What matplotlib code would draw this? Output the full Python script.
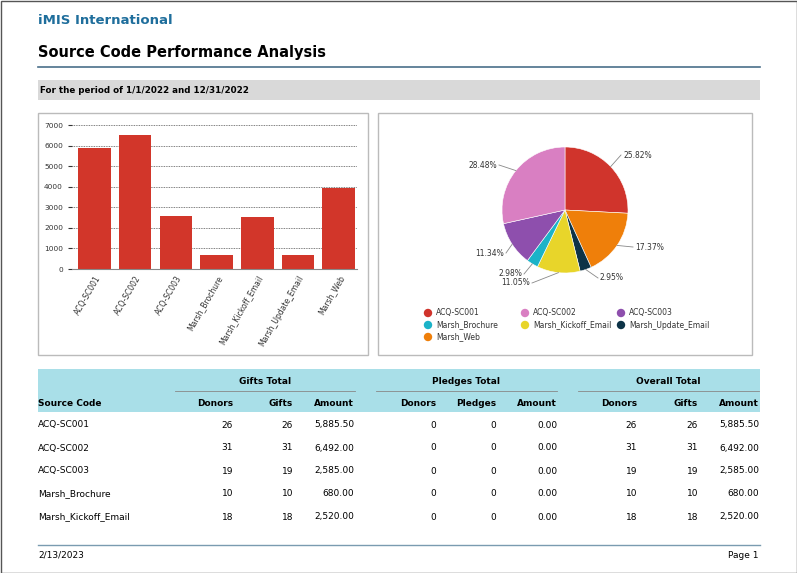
import matplotlib
matplotlib.use("Agg")
import matplotlib.pyplot as plt
from matplotlib.patches import Rectangle
from matplotlib.lines import Line2D
import numpy as np

codes = ["ACQ-SC001", "ACQ-SC002", "ACQ-SC003", "Marsh_Brochure", "Marsh_Kickoff_Email", "Marsh_Update_Email", "Marsh_Web"]
amounts = [5885.50, 6492.00, 2585.00, 680.00, 2520.00, 672.00, 3959.00]
pie_colors = {"ACQ-SC001": "#d0342c", "ACQ-SC002": "#d97fc2", "ACQ-SC003": "#8e4fad",
              "Marsh_Brochure": "#1bb3c8", "Marsh_Kickoff_Email": "#e8d52a",
              "Marsh_Update_Email": "#0d3347", "Marsh_Web": "#ef7f0a"}
pie_order = ["ACQ-SC001", "Marsh_Web", "Marsh_Update_Email", "Marsh_Kickoff_Email", "Marsh_Brochure", "ACQ-SC003", "ACQ-SC002"]
pie_labels = {"ACQ-SC001": "25.82%", "ACQ-SC002": "28.48%", "ACQ-SC003": "11.34%", "Marsh_Brochure": "2.98%",
              "Marsh_Kickoff_Email": "11.05%", "Marsh_Update_Email": "2.95%", "Marsh_Web": "17.37%"}

table_codes = ["ACQ-SC001", "ACQ-SC002", "ACQ-SC003", "Marsh_Brochure", "Marsh_Kickoff_Email"]
gift_donors = [26, 31, 19, 10, 18]
gift_counts = [26, 31, 19, 10, 18]
gift_amounts = ["5,885.50", "6,492.00", "2,585.00", "680.00", "2,520.00"]
pledge_donors = [0, 0, 0, 0, 0]
pledge_counts = [0, 0, 0, 0, 0]
pledge_amounts = ["0.00"] * 5
overall_donors = [26, 31, 19, 10, 18]
overall_gifts = [26, 31, 19, 10, 18]
overall_amounts = ["5,885.50", "6,492.00", "2,585.00", "680.00", "2,520.00"]

W, H = 797, 573
fig = plt.figure(figsize=(W/100, H/100), dpi=100)
fig.patch.set_facecolor("white")

def fx(x): return x / W
def fy(y): return 1 - y / H
def txt(x, y, s, **kw):
    kw.setdefault("va", "center")
    fig.text(fx(x), fy(y), s, **kw)
def rect(x0, y0, x1, y1, **kw):
    fig.patches.append(Rectangle((fx(x0), fy(y1)), fx(x1) - fx(x0), fy(y0) - fy(y1), transform=fig.transFigure, **kw))
def hline(x0, x1, y, **kw):
    fig.lines.append(Line2D([fx(x0), fx(x1)], [fy(y), fy(y)], transform=fig.transFigure, **kw))

rect(0.5, 0.5, W - 0.5, H - 0.5, fill=False, ec="#555555", lw=1)
txt(38, 20, "iMIS International", fontsize=9.5, fontweight="bold", color="#1f6e9c")
txt(38, 53, "Source Code Performance Analysis", fontsize=10.5, fontweight="bold", color="black")
hline(38, 760, 67, color="#4a6f8a", lw=1.2)
rect(38, 80, 760, 100, color="#d9d9d9", lw=0)
txt(40, 90, "For the period of 1/1/2022 and 12/31/2022", fontsize=6.3, fontweight="bold")

rect(38, 113, 368, 355, fill=False, ec="#bbbbbb", lw=1)
rect(378, 113, 752, 355, fill=False, ec="#bbbbbb", lw=1)

# bar chart
ax = fig.add_axes([fx(72), fy(269), fx(357) - fx(72), fy(125) - fy(269)])
ax.bar(range(len(codes)), amounts, width=0.8, color="#d2362a")
ax.set_ylim(0, 7000)
ax.set_xlim(-0.55, len(codes) - 0.55)
ax.set_yticks(range(0, 7001, 1000))
ax.tick_params(axis="y", labelsize=5.3, length=3, colors="#333333")
ax.set_xticks(range(len(codes)))
ax.set_xticklabels(codes, rotation=60, ha="right", rotation_mode="anchor", fontsize=5.5, color="#333333")
ax.tick_params(axis="x", length=0)
ax.grid(axis="y", linestyle=(0, (1, 1)), color="#555555", lw=0.6)
ax.set_axisbelow(True)
for s in ["top", "right", "left"]:
    ax.spines[s].set_visible(False)
ax.spines["bottom"].set_color("#888888")

# pie chart
cx, cy, r = 565, 210, 63
pax = fig.add_axes([fx(cx - r), fy(cy + r), fx(2 * r), (2 * r) / H])
vals = [amounts[codes.index(c)] for c in pie_order]
wedges, _ = pax.pie(vals, colors=[pie_colors[c] for c in pie_order], startangle=90, counterclock=False,
                    wedgeprops=dict(lw=0.4, ec="white"))
pax.set_xlim(-1, 1); pax.set_ylim(-1, 1)
pax.set_aspect("auto")
label_pos = {"ACQ-SC001": (623, 155), "Marsh_Web": (635, 247), "Marsh_Update_Email": (600, 278),
             "Marsh_Kickoff_Email": (530, 283), "Marsh_Brochure": (522, 274),
             "ACQ-SC003": (504, 253), "ACQ-SC002": (497, 165)}
for w, c in zip(wedges, pie_order):
    ang = np.deg2rad((w.theta1 + w.theta2) / 2)
    ex, ey = cx + r * np.cos(ang), cy - r * np.sin(ang)
    lx, ly = label_pos[c]
    right = lx > cx
    fig.lines.append(Line2D([fx(ex), fx(lx - (2 if right else -2))], [fy(ey), fy(ly)], transform=fig.transFigure, color="#888888", lw=0.6))
    txt(lx, ly, pie_labels[c], fontsize=5.5, color="#333333", ha="left" if right else "right")

leg_x = [428, 525, 621]
for i, c in enumerate(codes):
    x = leg_x[i % 3]; y = 313 + 12 * (i // 3)
    fig.patches.append(matplotlib.patches.Ellipse((fx(x), fy(y)), fx(7), 7 / H, transform=fig.transFigure, color=pie_colors[c]))
    txt(x + 8, y, c, fontsize=5.5, color="#333333")

# table
rect(38, 369, 760, 412, color="#a9dfe8", lw=0)
groups = [("Gifts Total", 175, 355), ("Pledges Total", 376, 557), ("Overall Total", 578, 759)]
for name, a, b in groups:
    txt((a + b) / 2, 381, name, fontsize=6.5, fontweight="bold", ha="center")
    hline(a, b, 391, color="#888888", lw=0.6)
txt(38, 403, "Source Code", fontsize=6.5, fontweight="bold")
col_x = [233, 293, 354, 436, 496, 557, 637, 698, 759]
heads = ["Donors", "Gifts", "Amount", "Donors", "Pledges", "Amount", "Donors", "Gifts", "Amount"]
for x, h in zip(col_x, heads):
    txt(x, 403, h, fontsize=6.5, fontweight="bold", ha="right")
cols = [gift_donors, gift_counts, gift_amounts, pledge_donors, pledge_counts, pledge_amounts,
        overall_donors, overall_gifts, overall_amounts]
for i, code in enumerate(table_codes):
    y = 425 + 23 * i
    txt(38, y, code, fontsize=6.5)
    for x, col in zip(col_x, cols):
        txt(x, y, str(col[i]), fontsize=6.5, ha="right")

hline(38, 760, 545, color="#7a9bb0", lw=1)
txt(38, 555, "2/13/2023", fontsize=6.5)
txt(759, 555, "Page 1", fontsize=6.5, ha="right")

fig.savefig("out.png", dpi=100)
